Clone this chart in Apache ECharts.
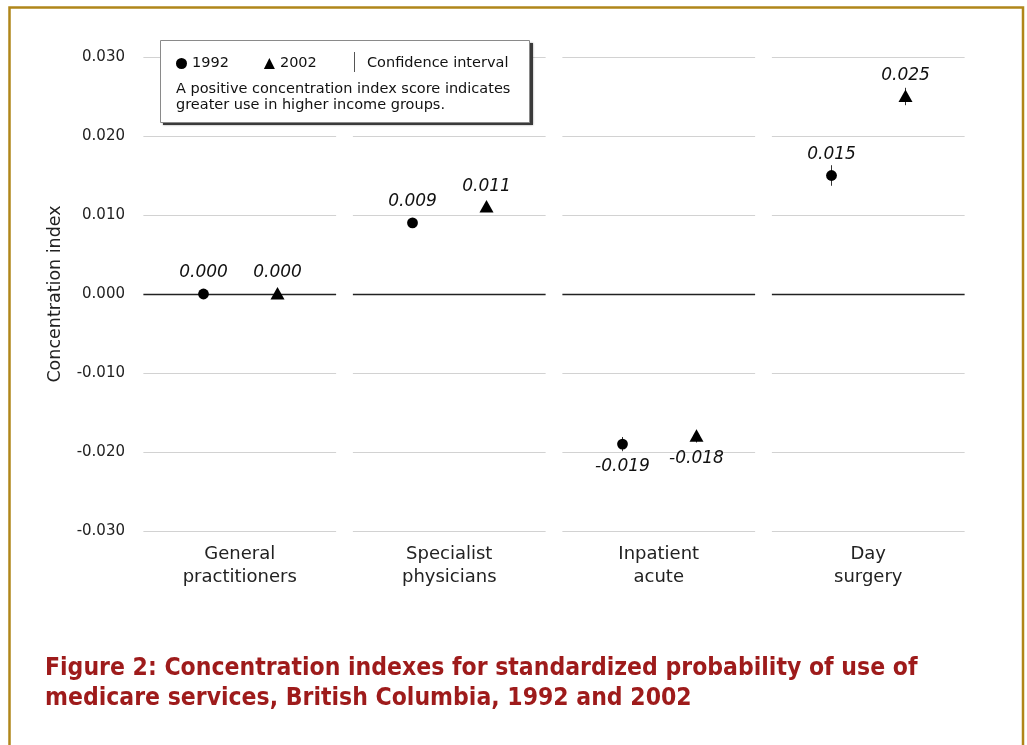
<!DOCTYPE html>
<html>
<head>
<meta charset="utf-8">
<style>
  html, body { margin: 0; padding: 0; background: #ffffff; }
  #chart { width: 1027px; height: 745px; }
</style>
<script src="https://cdn.jsdelivr.net/npm/echarts@6/dist/echarts.min.js"></script>
</head>
<body>
<div id="chart"></div>
<script>
// ---- data ----
const categories = ['General\npractitioners', 'Specialist\nphysicians', 'Inpatient\nacute', 'Day\nsurgery'];
const values1992 = [0.000, 0.009, -0.019, 0.015];
const values2002 = [0.000, 0.011, -0.018, 0.025];
const ciLow1992  = [-0.0003, 0.0085, -0.0199, 0.0137];
const ciHigh1992 = [0.0003, 0.0095, -0.0181, 0.0163];
const ciLow2002  = [-0.0003, 0.0105, -0.0188, 0.0239];
const ciHigh2002 = [0.0003, 0.0115, -0.0172, 0.0261];
const yTicks = [-0.03, -0.02, -0.01, 0, 0.01, 0.02, 0.03];
const noteText = 'A positive concentration index score indicates\ngreater use in higher income groups.';
const titleText = 'Figure 2: Concentration indexes for standardized probability of use of\nmedicare services, British Columbia, 1992 and 2002';

const FONT = 'DejaVu Sans';

function renderGrid(params, api) {
  const i = api.value(0);
  const half = api.size([1, 0])[0] * 0.46;
  const children = yTicks.map(function (t) {
    const p = api.coord([i, t]);
    const y = Math.round(p[1]) + 0.5;
    const isZero = Math.abs(t) < 1e-9;
    return {
      type: 'line',
      shape: { x1: p[0] - half, y1: y, x2: p[0] + half, y2: y },
      style: { stroke: isZero ? '#222' : '#d2d2d2', lineWidth: isZero ? 1.4 : 1 }
    };
  });
  return { type: 'group', children: children };
}

function makeRender(side, shape) {
  return function (params, api) {
    const i = api.value(0);
    const v = api.value(1);
    const band = api.size([1, 0])[0];
    const p = api.coord([i, v]);
    const lo = api.coord([i, api.value(2)]);
    const hi = api.coord([i, api.value(3)]);
    const x = Math.round(p[0] + side * band * 0.177) + 0.5;
    const y = p[1];
    const children = [{
      type: 'line',
      shape: { x1: x, y1: lo[1], x2: x, y2: hi[1] },
      style: { stroke: '#333', lineWidth: 1 }
    }];
    if (shape === 'circle') {
      children.push({ type: 'circle', shape: { cx: x, cy: y, r: 5.4 }, style: { fill: '#000' } });
    } else {
      children.push({ type: 'polygon', shape: { points: [[x, y - 7], [x - 7, y + 5.5], [x + 7, y + 5.5]] }, style: { fill: '#000' } });
    }
    children.push({
      type: 'text',
      x: x,
      y: v >= 0 ? y - 21 : y + 22,
      style: {
        text: v.toFixed(3),
        fontSize: 17,
        fontStyle: 'italic',
        fontFamily: FONT,
        fill: '#111',
        align: 'center',
        verticalAlign: 'middle'
      }
    });
    return { type: 'group', children: children };
  };
}

const chart = echarts.init(document.getElementById('chart'), null, { renderer: 'canvas' });
chart.setOption({
  animation: false,
  backgroundColor: '#ffffff',
  grid: { left: 135, right: 54, top: 57, bottom: 214 },
  legend: {
    left: 171, top: 51,
    itemWidth: 11, itemHeight: 11, itemGap: 35,
    selectedMode: false,
    z: 6,
    data: [{ name: '1992', icon: 'circle' }, { name: '2002', icon: 'triangle' }],
    textStyle: { fontFamily: FONT, fontSize: 14.5, color: '#111' }
  },
  xAxis: {
    type: 'category',
    data: categories,
    axisLine: { show: false },
    axisTick: { show: false },
    splitLine: { show: false },
    axisLabel: { fontFamily: FONT, fontSize: 18, lineHeight: 23, color: '#222', margin: 12 }
  },
  yAxis: {
    type: 'value',
    min: -0.03, max: 0.03, interval: 0.01,
    axisLine: { show: false },
    axisTick: { show: false },
    splitLine: { show: false },
    axisLabel: {
      fontFamily: FONT, fontSize: 15, color: '#222', margin: 10,
      formatter: function (v) { return (Math.abs(v) < 1e-9 ? 0 : v).toFixed(3); }
    },
    name: 'Concentration index',
    nameLocation: 'middle',
    nameGap: 71,
    nameTextStyle: { fontFamily: FONT, fontSize: 17.5, color: '#222' }
  },
  series: [
    {
      type: 'custom', name: 'grid', silent: true, z: 1,
      renderItem: renderGrid,
      data: categories.map(function (c, i) { return [i, 0]; })
    },
    {
      type: 'custom', name: '1992', z: 3,
      itemStyle: { color: '#000' },
      renderItem: makeRender(-1, 'circle'),
      data: values1992.map(function (v, i) { return [i, v, ciLow1992[i], ciHigh1992[i]]; })
    },
    {
      type: 'custom', name: '2002', z: 3,
      itemStyle: { color: '#000' },
      renderItem: makeRender(1, 'triangle'),
      data: values2002.map(function (v, i) { return [i, v, ciLow2002[i], ciHigh2002[i]]; })
    }
  ],
  graphic: [
    {
      type: 'rect', z: 100, silent: true,
      shape: { x: 9.5, y: 7.5, width: 1013.5, height: 800 },
      style: { fill: 'none', stroke: '#B0861A', lineWidth: 2.5 }
    },
    {
      type: 'rect', z: 4, silent: true,
      shape: { x: 163, y: 43, width: 370, height: 82 },
      style: { fill: '#3a3a3a', shadowColor: 'rgba(0,0,0,0.4)', shadowBlur: 2 }
    },
    {
      type: 'rect', z: 5, silent: true,
      shape: { x: 160.5, y: 40.5, width: 369, height: 82 },
      style: { fill: '#fff', stroke: '#8a8a8a', lineWidth: 1 }
    },
    {
      type: 'line', z: 6, silent: true,
      shape: { x1: 354.5, y1: 52, x2: 354.5, y2: 72 },
      style: { stroke: '#555', lineWidth: 1 }
    },
    {
      type: 'text', z: 6, silent: true, x: 367, y: 63,
      style: { text: 'Confidence interval', fontFamily: FONT, fontSize: 14.5, fill: '#111', verticalAlign: 'middle' }
    },
    {
      type: 'text', z: 6, silent: true, x: 176, y: 81,
      style: { text: noteText, fontFamily: FONT, fontSize: 14.5, lineHeight: 16, fill: '#111' }
    },
    {
      type: 'text', z: 6, silent: true, x: 45, y: 654,
      style: { text: titleText, fontFamily: 'DejaVu Sans Condensed', fontWeight: 'bold', fontSize: 24.5, lineHeight: 30, fill: '#9E1B1B' }
    }
  ]
});
</script>
</body>
</html>
